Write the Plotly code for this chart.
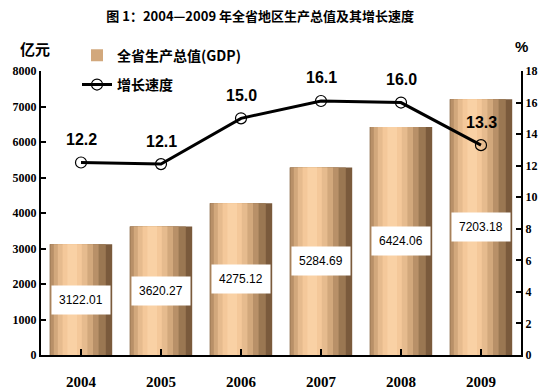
import plotly.graph_objects as go

years = ["2004", "2005", "2006", "2007", "2008", "2009"]
gdp = [3122.01, 3620.27, 4275.12, 5284.69, 6424.06, 7203.18]
growth = [12.2, 12.1, 15.0, 16.1, 16.0, 13.3]

title_text = "图 1：2004—2009 年全省地区生产总值及其增长速度"
bar_name = "全省生产总值(GDP)"
line_name = "增长速度"

CJK = "Noto Sans CJK SC"
NUM = "Liberation Sans"
SERIF = "Liberation Serif"

fig = go.Figure()

# layered bars to imitate cylindrical shading (offset, width, color)
layers = [
    (-0.39, 0.78, "#7a5a3c"),
    (-0.39, 0.70, "#9a7752"),
    (-0.38, 0.60, "#b89068"),
    (-0.34, 0.49, "#d2a87c"),
    (-0.29, 0.37, "#e6bb8e"),
    (-0.23, 0.24, "#f4c89a"),
    (-0.17, 0.12, "#f9d1a5"),
]
for i, (off, w, c) in enumerate(layers):
    fig.add_trace(go.Bar(
        x=list(range(len(years))), y=gdp, offset=off, width=w,
        marker=dict(color=c, line=dict(width=0)),
        name=bar_name, showlegend=(i == 3), legendgroup="bar",
        hoverinfo="skip", yaxis="y",
    ))

fig.add_trace(go.Scatter(
    x=list(range(len(years))), y=growth, mode="lines+markers",
    name=line_name, legendgroup="line", yaxis="y2",
    line=dict(color="black", width=3),
    marker=dict(symbol="circle-open", size=11, color="black", line=dict(width=1.2)),
))

annotations = []
for i, v in enumerate(gdp):
    annotations.append(dict(
        x=i, y=v * 0.5, xref="x", yref="y", text=f"{v:.2f}", showarrow=False,
        bgcolor="white", borderpad=7,
        font=dict(family=NUM, size=12, color="black"),
    ))
for i, g in enumerate(growth):
    annotations.append(dict(
        x=i, y=g, xref="x", yref="y2", text=f"{g:.1f}", showarrow=False,
        yshift=23, font=dict(family=NUM, size=16, color="black", weight="bold"),
    ))
annotations.append(dict(xref="x domain", yref="y domain", x=-0.012, y=1.08,
                        xanchor="center", yanchor="middle", text="亿元", showarrow=False,
                        font=dict(family=CJK, size=15, color="black", weight="bold")))
annotations.append(dict(xref="x domain", yref="y domain", x=1.0, y=1.085,
                        xanchor="center", yanchor="middle", text="%", showarrow=False,
                        font=dict(family=NUM, size=15, color="black", weight="bold")))

fig.update_layout(
    width=550, height=392,
    margin=dict(l=41, r=29, t=71, b=37, autoexpand=False),
    paper_bgcolor="white", plot_bgcolor="white",
    barmode="overlay",
    title=dict(text=title_text, x=0.473, xanchor="center", y=0.957, yanchor="middle",
               font=dict(family=CJK, size=13, color="black", weight="bold")),
    xaxis=dict(
        tickmode="array", tickvals=list(range(len(years))), ticktext=years,
        range=[-0.5, 5.5], showline=True, linecolor="black", linewidth=2,
        ticks="inside", tickson="boundaries", ticklen=6, tickcolor="black", tickwidth=1.5,
        showgrid=False, zeroline=False, ticklabelstandoff=12, automargin=False,
        tickfont=dict(family=SERIF, size=15, color="black", weight="bold"),
    ),
    yaxis=dict(
        range=[0, 8000], dtick=1000, showline=True, linecolor="black", linewidth=2,
        ticks="inside", ticklen=5, tickcolor="black", tickwidth=1.5,
        showgrid=False, zeroline=False, automargin=False,
        tickfont=dict(family=SERIF, size=12, color="black", weight="bold"),
    ),
    yaxis2=dict(
        range=[0, 18], dtick=2, overlaying="y", side="right",
        showline=True, linecolor="black", linewidth=2,
        ticks="inside", ticklen=5, tickcolor="black", tickwidth=1.5,
        showgrid=False, zeroline=False, automargin=False,
        tickfont=dict(family=SERIF, size=12, color="black", weight="bold"),
    ),
    legend=dict(
        x=0.075, y=1.11, xanchor="left", yanchor="top",
        bgcolor="rgba(0,0,0,0)", tracegroupgap=8,
        font=dict(family=CJK, size=14, color="black", weight="bold"),
        itemwidth=30,
    ),
    annotations=annotations,
    showlegend=True,
)

fig.write_html("out.html", config={"displayModeBar": False},
               post_script="document.body.style.margin='0';")
